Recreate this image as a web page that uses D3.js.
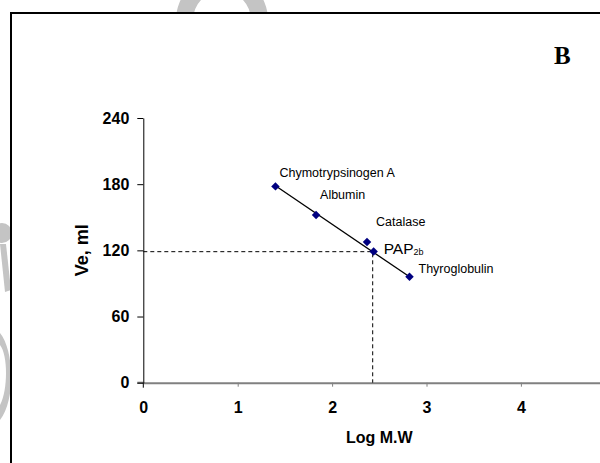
<!doctype html>
<html>
  <head>
    <meta charset="utf-8">
    <title>Log M.W vs Ve</title>
    <style>
      body { margin: 0; background: #fff; }
      svg { display: block; font-family: Arial, "Liberation Sans", sans-serif; }
      .tick text { font-size: 16px; font-weight: bold; fill: #000; }
      .point-label { font-size: 12px; fill: #000; }
    </style>
    <script src="https://cdnjs.cloudflare.com/ajax/libs/d3/7.8.5/d3.min.js"></script>
  </head>
  <body>
  <script>
    // proteins used for the calibration (PAP2b is the unknown)
    const proteins = ["Chymotrypsinogen A", "Albumin", "Catalase", "PAP", "Thyroglobulin"];
    const proteinSub = ["", "", "", "2b", ""];
    const logMW = [1.40, 1.83, 2.37, 2.44, 2.82];
    const ve = [178, 152, 127.5, 119, 96];

    // fitted calibration line (end points)
    const trendLogMW = [1.40, 2.82];
    const trendVe = [178.5, 96];

    const unknownLogMW = 2.43;
    const unknownVe = 118.8;

    const xTicks = [0, 1, 2, 3, 4];
    const yTicks = [0, 60, 120, 180, 240];

    const width = 600, height = 463;

    const svg = d3.select("body").append("svg")
        .attr("width", width)
        .attr("height", height);

    // watermark bits peeking out around the frame
    const wm = svg.append("g").attr("fill", "#c4c4c4");
    wm.append("path")
        .attr("transform", "translate(222,20)")
        .attr("d", d3.arc()({innerRadius: 29, outerRadius: 46, startAngle: -Math.PI, endAngle: Math.PI}));
    wm.append("circle").attr("cx", 2).attr("cy", 233).attr("r", 10);
    wm.append("path").attr("d", "M0,244 L6,244 L11,290 L5,292 Z");
    wm.append("path").attr("d", "M0,333 C14,350 16,400 0,420 L0,405 C8,390 8,355 0,345 Z");

    // frame
    svg.append("rect")
        .attr("x", 11).attr("y", 13)
        .attr("width", 620).attr("height", 480)
        .attr("fill", "#fff")
        .attr("stroke", "#000")
        .attr("stroke-width", 2);

    svg.append("text")
        .attr("x", 554).attr("y", 64)
        .style("font-family", "'Liberation Serif', 'Times New Roman', serif")
        .style("font-weight", "bold")
        .style("font-size", "25px")
        .text("B");

    const x = d3.scaleLinear().domain([0, 5]).range([143.3, 615.3]);
    const y = d3.scaleLinear().domain([0, 240]).range([382.7, 118]);

    // x axis (grey, runs off the right edge)
    const gx = svg.append("g")
        .attr("transform", "translate(0," + y(0) + ")")
        .call(d3.axisBottom(x).tickValues(xTicks).tickSize(4).tickSizeOuter(0).tickPadding(15).tickFormat(d3.format("d")));
    gx.select(".domain").attr("stroke", "#808080").attr("stroke-width", 2);
    gx.selectAll(".tick line").attr("stroke", "#808080");
    gx.selectAll(".tick").filter(d => d === 0).select("line").remove();
    gx.append("line")
        .attr("x1", x(0) - 6).attr("x2", x(0))
        .attr("stroke", "#808080").attr("stroke-width", 2);

    // y axis
    const gy = svg.append("g")
        .attr("transform", "translate(" + x(0) + ",0)")
        .call(d3.axisLeft(y).tickValues(yTicks).tickSize(6).tickSizeOuter(0).tickPadding(8));
    gy.select(".domain").attr("stroke", "#000");
    gy.append("line")
        .attr("y1", y(0)).attr("y2", y(0) + 5)
        .attr("stroke", "#000");

    svg.append("text")
        .attr("x", x(2.5)).attr("y", 443)
        .attr("text-anchor", "middle")
        .style("font-weight", "bold")
        .style("font-size", "16px")
        .text("Log M.W");

    svg.append("text")
        .attr("transform", "translate(88," + y(120) + ") rotate(-90)")
        .attr("text-anchor", "middle")
        .style("font-weight", "bold")
        .style("font-size", "18px")
        .text("Ve, ml");

    // dashed guides to the unknown
    svg.append("path")
        .attr("d", "M" + x(0) + "," + y(unknownVe) + "H" + x(unknownLogMW) + "V" + y(0))
        .attr("fill", "none")
        .attr("stroke", "#000")
        .attr("stroke-dasharray", "4,3");

    // calibration line
    svg.append("line")
        .attr("x1", x(trendLogMW[0])).attr("y1", y(trendVe[0]))
        .attr("x2", x(trendLogMW[1])).attr("y2", y(trendVe[1]))
        .attr("stroke", "#000")
        .attr("stroke-width", 1.3);

    const points = proteins.map((name, i) => ({name: name, sub: proteinSub[i], x: logMW[i], y: ve[i]}));

    svg.selectAll(".point")
        .data(points)
      .enter().append("path")
        .attr("class", "point")
        .attr("transform", d => "translate(" + x(d.x) + "," + y(d.y) + ") rotate(45)")
        .attr("d", d3.symbol(d3.symbolSquare, 36))
        .attr("fill", "#000080");

    // label offsets from their points
    const labelOffset = [[4, -9], [4, -16], [9, -16], [10, 3], [9, -4]];

    const labels = svg.selectAll(".point-label")
        .data(points)
      .enter().append("text")
        .attr("class", "point-label")
        .attr("x", (d, i) => x(d.x) + labelOffset[i][0])
        .attr("y", (d, i) => y(d.y) + labelOffset[i][1])
        .style("font-size", d => d.sub ? "15.5px" : "12.5px")
        .text(d => d.name);

    labels.filter(d => d.sub)
      .append("tspan")
        .attr("dy", 1)
        .style("font-size", "9px")
        .text(d => d.sub);
  </script>
  </body>
</html>
